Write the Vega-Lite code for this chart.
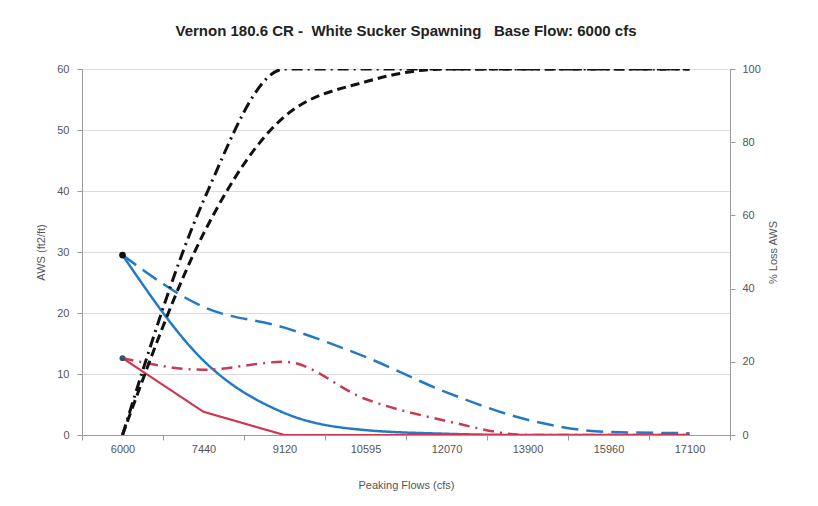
{
  "$schema": "https://vega.github.io/schema/vega-lite/v6.json",
  "width": 648,
  "height": 366,
  "autosize": {"type": "none"},
  "padding": {"left": 82, "top": 69, "right": 88, "bottom": 71},
  "background": "white",
  "config": {
    "font": "Liberation Sans",
    "view": {"stroke": "#9a9a9a", "strokeWidth": 1},
    "axis": {"labelColor": "#555555", "titleColor": "#555555", "labelFontSize": 11, "titleFontSize": 11, "titleFontWeight": "normal", "domainColor": "#9a9a9a", "tickColor": "#9a9a9a", "gridColor": "#dcdcdc"}
  },
  "title": {"text": "Vernon 180.6 CR -\u00a0\u00a0White Sucker Spawning\u00a0\u00a0\u00a0Base Flow: 6000 cfs", "fontSize": 15, "fontWeight": "bold", "color": "#222222", "offset": 24, "anchor": "middle"},
  "datasets": {
    "aws": [
      {"flow": 6000, "series": "blue solid", "value": 29.5},
      {"flow": 7440, "series": "blue solid", "value": 12.2},
      {"flow": 9120, "series": "blue solid", "value": 3.6},
      {"flow": 10595, "series": "blue solid", "value": 0.8},
      {"flow": 12070, "series": "blue solid", "value": 0.2},
      {"flow": 13900, "series": "blue solid", "value": 0},
      {"flow": 15960, "series": "blue solid", "value": 0},
      {"flow": 17100, "series": "blue solid", "value": 0},
      {"flow": 6000, "series": "blue dashed", "value": 29.5},
      {"flow": 7440, "series": "blue dashed", "value": 21.0},
      {"flow": 9120, "series": "blue dashed", "value": 17.6},
      {"flow": 10595, "series": "blue dashed", "value": 12.8},
      {"flow": 12070, "series": "blue dashed", "value": 7.0},
      {"flow": 13900, "series": "blue dashed", "value": 2.5},
      {"flow": 15960, "series": "blue dashed", "value": 0.5},
      {"flow": 17100, "series": "blue dashed", "value": 0.3},
      {"flow": 6000, "series": "red dashdot", "value": 12.6},
      {"flow": 7440, "series": "red dashdot", "value": 10.7},
      {"flow": 9120, "series": "red dashdot", "value": 12.0},
      {"flow": 10595, "series": "red dashdot", "value": 5.9},
      {"flow": 12070, "series": "red dashdot", "value": 2.3},
      {"flow": 13900, "series": "red dashdot", "value": 0},
      {"flow": 15960, "series": "red dashdot", "value": 0},
      {"flow": 17100, "series": "red dashdot", "value": 0}
    ],
    "redsolid": [
      {"flow": 6000, "value": 12.6},
      {"flow": 7440, "value": 3.8},
      {"flow": 9120, "value": 0},
      {"flow": 10595, "value": 0},
      {"flow": 12070, "value": 0},
      {"flow": 13900, "value": 0},
      {"flow": 15960, "value": 0},
      {"flow": 17100, "value": 0}
    ],
    "markers": [
      {"flow": 6000, "series": "blue", "value": 29.5},
      {"flow": 6000, "series": "red", "value": 12.6}
    ],
    "loss": [
      {"flow": 6000, "series": "dashed", "value": 0},
      {"flow": 7440, "series": "dashed", "value": 55},
      {"flow": 9120, "series": "dashed", "value": 87},
      {"flow": 10595, "series": "dashed", "value": 96.5},
      {"flow": 12070, "series": "dashed", "value": 100},
      {"flow": 13900, "series": "dashed", "value": 100},
      {"flow": 15960, "series": "dashed", "value": 100},
      {"flow": 17100, "series": "dashed", "value": 100},
      {"flow": 6000, "series": "dashdot", "value": 0},
      {"flow": 7440, "series": "dashdot", "value": 64},
      {"flow": 9120, "series": "dashdot", "value": 100},
      {"flow": 10595, "series": "dashdot", "value": 100},
      {"flow": 12070, "series": "dashdot", "value": 100},
      {"flow": 13900, "series": "dashdot", "value": 100},
      {"flow": 15960, "series": "dashdot", "value": 100},
      {"flow": 17100, "series": "dashdot", "value": 100}
    ]
  },
  "encoding": {
    "x": {"field": "flow", "type": "ordinal", "bandPosition": 0.5,
      "scale": {"type": "band", "paddingInner": 0, "paddingOuter": 0},
      "axis": {"title": "Peaking Flows (cfs)", "labelAngle": 0, "tickBand": "extent", "tickSize": 5, "labelPadding": 3, "titlePadding": 25, "domainColor": "#9a9a9a"}}
  },
  "layer": [
    {
      "layer": [
        {
          "data": {"name": "aws"},
          "mark": {"type": "line", "interpolate": "monotone", "strokeWidth": 2.5, "clip": true},
          "encoding": {
            "y": {"field": "value", "type": "quantitative", "scale": {"domain": [0, 60], "nice": false},
              "axis": {"title": "AWS (ft2/ft)", "values": [0, 10, 20, 30, 40, 50, 60], "grid": true, "tickSize": 5, "labelPadding": 8, "titlePadding": 10}},
            "color": {"field": "series", "type": "nominal", "legend": null,
              "scale": {"domain": ["blue solid", "blue dashed", "red dashdot"], "range": ["#2479C7", "#2479C7", "#C93A55"]}},
            "strokeDash": {"field": "series", "type": "nominal", "legend": null,
              "scale": {"domain": ["blue solid", "blue dashed", "red dashdot"], "range": [[1, 0], [17, 8], [11, 6, 2, 6]]}}
          }
        },
        {
          "data": {"name": "redsolid"},
          "mark": {"type": "line", "interpolate": "linear", "strokeWidth": 2.2, "color": "#D2344E", "clip": true},
          "encoding": {"y": {"field": "value", "type": "quantitative"}}
        },
        {
          "data": {"name": "markers"},
          "transform": [{"filter": "datum.series == 'blue'"}],
          "mark": {"type": "point", "filled": true, "size": 45, "opacity": 1, "color": "#111111"},
          "encoding": {"y": {"field": "value", "type": "quantitative"}}
        },
        {
          "data": {"name": "markers"},
          "transform": [{"filter": "datum.series == 'red'"}],
          "mark": {"type": "point", "filled": true, "size": 35, "opacity": 1, "color": "#35546F"},
          "encoding": {"y": {"field": "value", "type": "quantitative"}}
        }
      ]
    },
    {
      "data": {"name": "loss"},
      "mark": {"type": "line", "interpolate": "monotone", "strokeWidth": 3, "color": "#111111", "clip": true},
      "encoding": {
        "y": {"field": "value", "type": "quantitative", "scale": {"domain": [0, 100], "nice": false},
          "axis": {"orient": "right", "title": "% Loss AWS", "values": [0, 20, 40, 60, 80, 100], "grid": false, "tickSize": 5, "labelPadding": 7, "titlePadding": 18, "titleAngle": 270}},
        "strokeDash": {"field": "series", "type": "nominal", "legend": null,
          "scale": {"domain": ["dashed", "dashdot"], "range": [[9, 5], [11, 5, 2, 5]]}}
      }
    }
  ],
  "resolve": {"scale": {"y": "independent", "color": "independent", "strokeDash": "independent"}}
}
